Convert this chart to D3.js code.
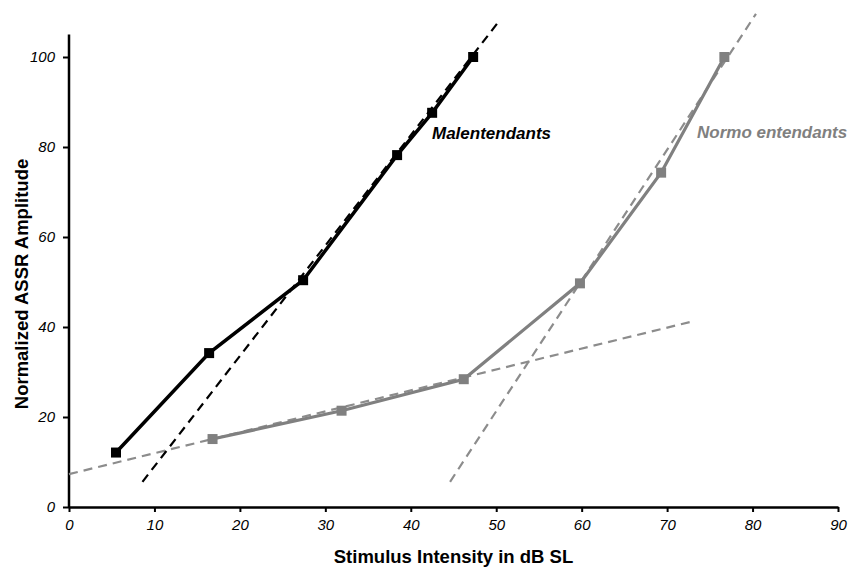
<!DOCTYPE html>
<html>
<head>
<meta charset="utf-8">
<script src="https://cdn.jsdelivr.net/npm/d3@7"></script>
<style>
  body { margin: 0; background: #fff; }
  text { font-family: "Liberation Sans", Arial, sans-serif; }
</style>
</head>
<body>
<div id="chart"></div>
<script>
// data
var xTicks = [0, 10, 20, 30, 40, 50, 60, 70, 80, 90];
var yTicks = [0, 20, 40, 60, 80, 100];

var maleX = [5.5, 16.4, 27.4, 38.4, 42.5, 47.3];
var maleY = [12.1, 34.2, 50.4, 78.2, 87.6, 100];

var normoX = [16.8, 31.9, 46.2, 59.8, 69.3, 76.7];
var normoY = [15.1, 21.4, 28.4, 49.7, 74.3, 100];

// fitted regression lines [x1, y1, x2, y2]
var maleFit = [8.6, 5.6, 50.1, 107.4];
var normoFitLow = [0, 7.3, 73.1, 41.3];
var normoFitHigh = [44.6, 5.6, 80.4, 109.6];

var svgWidth = 851;
var svgHeight = 567;
var leftX = 69;
var rightX = 838;
var bottomY = 507;
var pxPerUnit = 4.5;

var svg = d3.select("#chart")
    .append("svg")
    .attr("width", svgWidth)
    .attr("height", svgHeight);

var xScale = d3.scaleLinear()
    .domain([0, 90])
    .range([leftX, rightX]);
var yScale = d3.scaleLinear()
    .domain([0, 105])
    .range([bottomY, bottomY - 105 * pxPerUnit]);

var xAxisCall = d3.axisBottom(xScale).tickValues(xTicks).tickSize(5).tickPadding(7).tickSizeOuter(0);
var yAxisCall = d3.axisLeft(yScale).tickValues(yTicks).tickSize(6).tickPadding(8).tickSizeOuter(0);

var xAxisGroup = svg.append("g")
    .attr("transform", `translate(0,${bottomY})`)
    .call(xAxisCall);
var yAxisGroup = svg.append("g")
    .attr("transform", `translate(${leftX},0)`)
    .call(yAxisCall);

[xAxisGroup, yAxisGroup].forEach(g => {
    g.select(".domain").attr("stroke", "#000").attr("stroke-width", 2.5);
    g.selectAll(".tick line").attr("stroke", "#000").attr("stroke-width", 2);
    g.selectAll(".tick text")
        .attr("font-size", "15px")
        .attr("font-style", "italic")
        .attr("fill", "#000")
        .attr("font-family", "'Liberation Sans', Arial, sans-serif");
});
// extend the y axis a bit past the data
yAxisGroup.select(".domain").attr("d", `M0,${yScale(0)}V${yScale(105)}`);

// axis titles
svg.append("text")
    .attr("x", (leftX + rightX) / 2)
    .attr("y", 563)
    .attr("text-anchor", "middle")
    .attr("font-size", "18.5px")
    .attr("font-weight", "bold")
    .text("Stimulus Intensity in dB SL");

svg.append("text")
    .attr("transform", "translate(28,284) rotate(-90)")
    .attr("text-anchor", "middle")
    .attr("font-size", "18.5px")
    .attr("font-weight", "bold")
    .text("Normalized ASSR Amplitude");

// dashed fits
function drawFit(f, color) {
    svg.append("line")
        .attr("x1", xScale(f[0]))
        .attr("y1", yScale(f[1]))
        .attr("x2", xScale(f[2]))
        .attr("y2", yScale(f[3]))
        .attr("stroke", color)
        .attr("stroke-width", 2.2)
        .attr("stroke-dasharray", "9,6");
}
drawFit(normoFitLow, "#8c8c8c");
drawFit(normoFitHigh, "#8c8c8c");
drawFit(maleFit, "#000");

var line = d3.line()
    .x(d => xScale(d[0]))
    .y(d => yScale(d[1]));

function drawSeries(xs, ys, color, width) {
    var pts = xs.map((x, i) => [x, ys[i]]);
    svg.append("path")
        .datum(pts)
        .attr("d", line)
        .attr("fill", "none")
        .attr("stroke", color)
        .attr("stroke-width", width);
    svg.append("g").selectAll("rect")
        .data(pts)
        .enter()
        .append("rect")
        .attr("x", d => xScale(d[0]) - 5)
        .attr("y", d => yScale(d[1]) - 5)
        .attr("width", 10)
        .attr("height", 10)
        .attr("fill", color);
}
drawSeries(normoX, normoY, "#808080", 3.2);
drawSeries(maleX, maleY, "#000", 3.5);

svg.append("text")
    .attr("x", 432)
    .attr("y", 139)
    .attr("font-size", "17px")
    .attr("font-weight", "bold")
    .attr("font-style", "italic")
    .attr("fill", "#000")
    .text("Malentendants");

svg.append("text")
    .attr("x", 697)
    .attr("y", 138)
    .attr("font-size", "17px")
    .attr("font-weight", "bold")
    .attr("font-style", "italic")
    .attr("fill", "#808080")
    .text("Normo entendants");
</script>
</body>
</html>
